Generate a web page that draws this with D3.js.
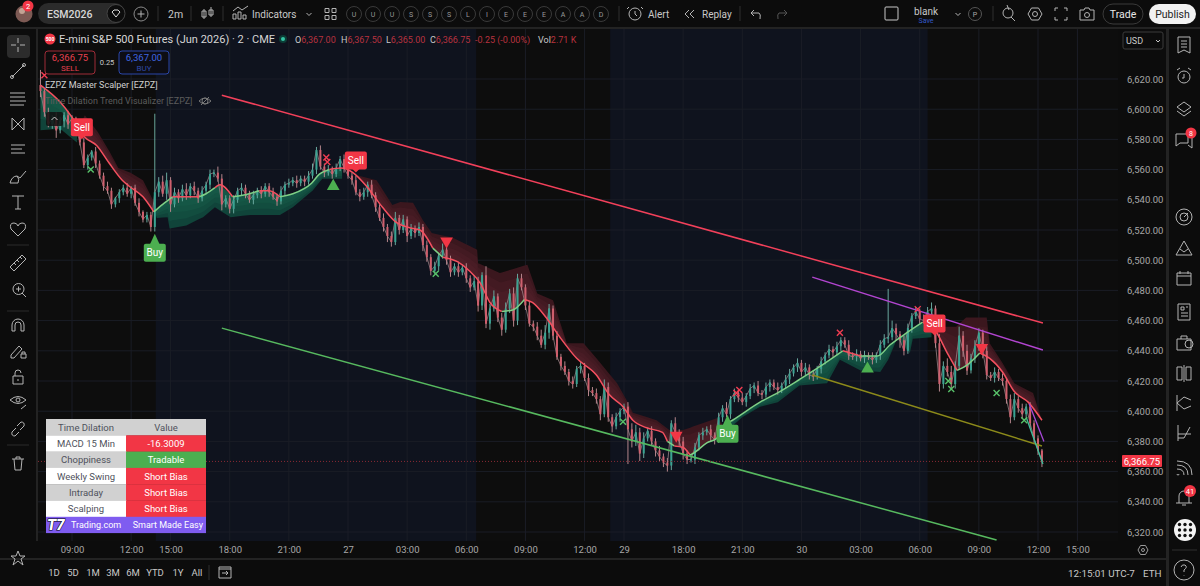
<!DOCTYPE html>
<html><head><meta charset="utf-8">
<script src="https://cdn.jsdelivr.net/npm/d3@7/dist/d3.min.js"></script>
<style>
html,body{margin:0;padding:0;background:#0d0d0d;overflow:hidden}
svg{display:block}
text{font-family:Roboto,"Noto Sans",sans-serif}
</style></head><body>
<svg id="c" width="1200" height="586"></svg>
<script>
// ---------- time axis: one unit = 3 trading minutes, 0 = first 09:00 ----------
const timeTicks=[0,60,100,160,220,280,340,400,460,520,560,620,680,740,800,860,920,980,1020];
const timeLabels=["09:00","12:00","15:00","18:00","21:00","27","03:00","06:00","09:00","12:00","29","18:00","21:00","30","03:00","06:00","09:00","12:00","15:00"];
const priceTicks=[6620,6600,6580,6560,6540,6520,6500,6480,6460,6440,6420,6400,6380,6360,6340,6320];
const firstBar=-32, barStep=4;
const sessions=[[85,410],[546,868]];
// ---------- price candles (12 minute resolution) ----------
const closes=[
6612,6598,6590,6594,6586,6592,6596,6590,6594,6588,
6578,6563,6568,6572,6564,6556,6549,6546,6537,6541,
6545,6548,6544,6548,6538,6532,6527,6530,6522,6545,
6552,6544,6553,6537,6545,6541,6547,6543,6549,6546,
6541,6546,6550,6557,6558,6554,6537,6541,6534,6540,
6546,6548,6544,6540,6543,6546,6544,6549,6545,6542,
6539,6546,6550,6551,6553,6551,6554,6552,6556,6560,
6573,6562,6558,6560,6557,6561,6567,6561,6556,6553,
6545,6542,6545,6550,6543,6535,6528,6522,6516,6512,
6528,6520,6527,6516,6521,6518,6522,6510,6502,6493,
6496,6503,6507,6500,6492,6496,6492,6495,6488,6482,
6486,6470,6490,6458,6468,6476,6462,6454,6468,6478,
6460,6488,6482,6470,6458,6456,6450,6444,6452,6468,
6450,6436,6430,6426,6420,6418,6428,6430,6422,6414,
6412,6408,6398,6416,6396,6390,6396,6400,6403,6388,
6380,6386,6372,6382,6387,6380,6374,6370,6366,6364,
6392,6386,6380,6372,6368,6368,6376,6384,6386,6388,
6384,6381,6396,6402,6398,6408,6412,6409,6406,6410,
6415,6417,6412,6411,6416,6419,6416,6414,6417,6421,
6425,6429,6432,6426,6429,6424,6423,6428,6433,6437,
6441,6439,6443,6447,6444,6437,6436,6438,6435,6437,
6436,6434,6437,6444,6448,6449,6455,6451,6447,6440,
6455,6463,6466,6461,6460,6466,6468,6445,6418,6430,
6426,6418,6430,6450,6440,6427,6435,6443,6452,6440,
6424,6422,6426,6422,6420,6408,6396,6408,6402,6398,
6403,6392,6382,6374,6367];
const upperWick=[
10,2,3,2,4,3,2,3,2,1,
2,3,2,1,3,2,2,3,2,1,
2,2,3,1,2,3,1,2,2,52,
3,4,5,2,3,2,3,4,2,3,
2,3,2,3,2,4,3,2,2,3,
2,3,2,2,3,2,3,2,2,3,
2,3,2,3,2,3,2,2,3,4,
2,3,2,3,2,3,2,3,2,2,
3,2,3,2,3,2,2,3,2,3,
4,2,3,2,3,2,3,2,3,2,
3,2,4,2,3,2,3,2,3,2,
4,3,2,6,3,4,2,3,4,3,
4,3,3,2,3,2,3,4,5,3,
2,3,2,3,2,3,2,3,2,3,
2,3,2,5,3,2,3,2,2,3,
4,5,3,4,2,3,2,3,2,3,
2,4,2,3,2,3,3,2,3,2,
3,2,3,2,4,2,3,2,3,2,
3,2,3,2,3,2,2,3,2,3,
3,2,3,2,3,2,3,2,3,2,
3,2,3,2,2,3,2,3,2,3,
2,3,2,3,3,32,5,3,2,3,
3,2,3,2,3,3,4,2,6,3,
5,4,3,6,3,4,3,4,3,2,
3,2,3,2,3,2,3,4,2,3,
2,3,2,2,1];
const lowerWick=[
4,3,2,3,5,2,4,3,2,3,
2,2,3,2,3,2,3,2,3,2,
3,2,2,3,2,3,2,2,3,3,
3,2,4,5,2,3,2,3,2,3,
3,2,2,3,2,2,4,2,3,3,
2,3,3,2,3,2,3,2,3,2,
3,2,3,2,2,3,2,3,2,2,
3,2,3,2,3,2,2,3,2,3,
2,3,2,3,2,3,2,3,4,3,
2,3,2,4,2,3,2,4,3,3,
2,3,2,3,3,2,3,2,3,3,
2,4,3,3,4,2,3,4,2,3,
4,3,2,3,2,3,3,2,3,4,
3,2,3,2,3,3,2,3,2,4,
2,3,4,2,3,4,2,3,2,23,
4,3,5,3,2,3,4,3,3,4,
3,2,3,4,3,2,3,2,3,2,
4,3,2,3,2,3,2,3,2,3,
2,3,2,3,2,3,2,3,2,2,
3,2,3,3,2,3,3,2,3,2,
2,3,2,3,2,3,2,3,2,3,
2,3,2,3,2,3,2,4,5,3,
2,3,2,3,2,3,2,3,5,3,
3,4,3,2,4,3,2,3,3,5,
3,2,3,2,3,3,4,2,3,3,
2,3,3,3,4];
// ---------- trend line ----------
const trendBars=[-32,-12,0,13,25,38,51,58,72,83,92,102,109,129,136,145,150,163,173,190,200,211,224,243,251,261,273,285,300,315,329,346,353,366,376,391,403,414,424,436,447,459,467,481,495,512,532,545,559,569,583,599,604,611,620,627,630,644,654,665,670,698,718,738,762,782,800,817,830,847,863,873,888,898,908,921,931,944,956,970,984];
const trendPrices=[6616,6604.7,6594.7,6581.5,6576,6564,6553,6549,6542,6532,6537,6542,6542,6542,6544,6548,6550,6542,6543,6546,6546,6542,6544,6551,6557,6560,6561,6558,6548,6535,6525,6521,6520,6508,6502,6499,6493,6485,6472,6466,6467,6474,6472,6462,6449,6435,6424,6411,6403,6394,6389,6386,6380,6377,6376,6371,6372,6379,6382,6392,6394,6406,6413,6421,6431,6440,6436.5,6436.5,6444,6452,6459,6456,6438.5,6427,6430.5,6438.5,6435,6426,6413,6406,6394];
const trendDirs=[-1,-1,-1,-1,-1,-1,-1,-1,-1,-1,1,1,-1,-1,1,1,-1,-1,1,1,-1,-1,1,1,1,1,-1,-1,-1,-1,-1,-1,-1,-1,1,-1,-1,-1,-1,-1,1,1,-1,-1,-1,-1,-1,-1,-1,-1,-1,-1,-1,1,-1,-1,1,1,1,1,1,1,1,1,1,1,-1,1,1,1,1,-1,-1,-1,1,1,-1,-1,-1,-1,-1];
// ---------- time-dilation cloud: outer edge and the side it sits on ----------
const cloudBars=[-32,-12,5, 6,8,13,26,38,47,59,72,82,84, 85,86,97,99,116,133,145,161,181,211,224,244,254,274, 275,278,291,309,325,333,346,356,365,386,411,412,434,462,472,488,502,519,536,553,563,569,593,606,620,655,661, 662,663,680,698,716,738,766,779,800,820,828,837,850,853,872, 873,875,878,897,907,928,931,944,956,975,984];
const cloudEdges=[6586,6587,6578, 6590,6589,6596,6585,6572,6561,6558,6553,6540,6532, 6530,6528,6528.5,6521,6523,6528.5,6535,6528.5,6530,6530,6535,6546,6554,6554, 6561,6559,6556,6553,6536.5,6538.5,6538,6526.5,6518,6515,6507,6498,6491.5,6497,6478,6473.5,6445,6445,6432,6418.5,6407,6399,6394,6387.5,6387.5,6395.5,6390, 6388,6386,6396,6403,6406,6417,6418.5,6434,6427,6426,6434,6448,6438.5,6448,6449, 6456,6470,6456,6456,6462,6462,6445,6432,6418.5,6412,6394];
const cloudSides=[1,1,1, -1,-1,-1,-1,-1,-1,-1,-1,-1,-1, 1,1,1,1,1,1,1,1,1,1,1,1,1,1, -1,-1,-1,-1,-1,-1,-1,-1,-1,-1,-1,-1,-1,-1,-1,-1,-1,-1,-1,-1,-1,-1,-1,-1,-1,-1,-1, 1,1,1,1,1,1,1,1,1,1,1,1,1,1,1, -1,-1,-1,-1,-1,-1,-1,-1,-1,-1,-1];
// ---------- drawn channel lines [bar0, price0, bar1, price1] ----------
const channelRed=[152,6609.3,985,6458.4];
const channelGreen=[152,6455,938,6314.7];
const channelPurple=[751,6488.8,985,6440.5];
const channelOlive=[751,6424,984,6377];
const stubPurple=[971,6405,986,6380];
const stubTeal=[968,6396,985,6365];
// ---------- signals ----------
const sellBars=[10,288,875], sellPrices=[6588,6566,6458];
const buyBars=[84,665], buyPrices=[6505,6385];
const upBars=[265,807], upPrices=[6549,6428];
const downBars=[380,613,923], downPrices=[6512.6,6384,6442];
const redCrossBars=[-28,258,259,674,677,779,858], redCrossPrices=[6622.5,6568,6565,6412,6414,6452,6467.6];
const greenCrossBars=[19,369,559,889,892,938,966], greenCrossPrices=[6560,6491,6393,6420,6414.7,6412,6394];
const lastPrice=6366.75;
// ---------- table ----------
const tableNames=["Time Dilation","MACD 15 Min","Choppiness","Weekly Swing","Intraday","Scalping"];
const tableValues=["Value","-16.3009","Tradable","Short Bias","Short Bias","Short Bias"];
// ---------- chrome text ----------
const watchLetters=["U","U","U","S","S","S","L","I","E","E","E","A","A","D"];
const ohlcLabels=["O","H","L","C"], ohlcValues=["6,367.00","6,367.50","6,365.00","6,366.75"];
const ranges=["1D","5D","1M","3M","6M","YTD","1Y","All"];

const RED="#f23645",GREEN="#4caf50",TXT="#c9c9c9",DIM="#a8a8a8";
const svg=d3.select("#c");
const x=d3.scaleLinear().domain([0,980]).range([72,1038]);
const y=d3.scaleLinear().domain([6320,6620]).range([532,79]);
const L=38,R=1118,T=28,B=541;

svg.append("rect").attr("width",1200).attr("height",586).attr("fill","#0c0c0c");
const clip=svg.append("defs").append("clipPath").attr("id","pane");
clip.append("rect").attr("x",L).attr("y",T).attr("width",R-L).attr("height",B-T);
const pane=svg.append("g").attr("clip-path","url(#pane)");
pane.append("rect").attr("x",L).attr("y",T).attr("width",R-L).attr("height",B-T).attr("fill","#0d0d0d");
pane.selectAll(".s").data(sessions).join("rect").attr("x",d=>x(d[0])).attr("y",T).attr("width",d=>x(d[1])-x(d[0])).attr("height",B-T).attr("fill","#0f131e");
pane.selectAll(".gv").data(timeTicks).join("line").attr("x1",d=>x(d)).attr("x2",d=>x(d)).attr("y1",T).attr("y2",B).attr("stroke","#1a1d26").attr("stroke-width",1);
pane.selectAll(".gh").data(priceTicks).join("line").attr("y1",d=>y(d)).attr("y2",d=>y(d)).attr("x1",L).attr("x2",R).attr("stroke","#1a1d26").attr("stroke-width",1);

// cloud
const trendAt=d3.scaleLinear().domain(trendBars).range(trendPrices);
function runs(side){const out=[];let s=0;for(let i=1;i<=side.length;i++){if(i==side.length||side[i]!=side[s]){out.push([s,i]);s=i;}}return out;}
const cg=pane.append("g");
runs(cloudSides).forEach(([a,b])=>{
  const bars=cloudBars.slice(a,b),edges=cloudEdges.slice(a,b),up=cloudSides[a]<0;
  const edgeAt=d3.scaleLinear().domain(bars).range(edges);
  const mid=trendBars.filter(t=>t>bars[0]&&t<bars[bars.length-1]);
  const pts=[...new Set([...bars,...mid])].sort((p,q)=>p-q);
  const base=up?"#3b171e":"#10443a", bright=up?"#5a2530":"#1a6350";
  [1,.75,.5,.3].forEach((f,k)=>{
    cg.append("path").attr("d",d3.area().x(d=>x(d)).y0(d=>y(trendAt(d))).y1(d=>y(trendAt(d)+(edgeAt(d)-trendAt(d))*f))(pts))
      .attr("fill",k==0?base:bright).attr("fill-opacity",k==0?1:.28);
  });
});

// candles, with a thin trace through the closes to carry the fine jitter
const candles=closes.map((c,i)=>{const o=i?closes[i-1]:c+4;return {bar:firstBar+i*barStep,o,c,h:Math.max(o,c)+upperWick[i],l:Math.min(o,c)-lowerWick[i]};});
const cd=pane.append("g");
cd.append("path").attr("d",d3.line().x(d=>x(d.bar)).y(d=>y(d.c))(candles)).attr("fill","none").attr("stroke","#a0888c").attr("stroke-width",1).attr("stroke-opacity",.75);
cd.selectAll(".w").data(candles).join("line").attr("x1",d=>x(d.bar)).attr("x2",d=>x(d.bar)).attr("y1",d=>y(d.h)).attr("y2",d=>y(d.l)).attr("stroke",d=>d.c>=d.o?"#6aa89e":"#b5868c").attr("stroke-width",1);
cd.selectAll(".b").data(candles).join("rect").attr("x",d=>x(d.bar)-1).attr("width",2)
  .attr("y",d=>y(Math.max(d.o,d.c))).attr("height",d=>Math.max(1,Math.abs(y(d.o)-y(d.c))))
  .attr("fill",d=>d.c>=d.o?"#3aa392":"#cf5f6d");

// trend line by direction runs
const ln=d3.line().x(d=>x(d[0])).y(d=>y(d[1])).curve(d3.curveMonotoneX);
runs(trendDirs).forEach(([a,b])=>{
  const pts=[];for(let i=Math.max(0,a-1);i<b;i++)pts.push([trendBars[i],trendPrices[i]]);
  pane.append("path").attr("d",ln(pts)).attr("fill","none").attr("stroke",trendDirs[a]<0?"#f4505f":"#7fcf86").attr("stroke-width",1.5);
});

// drawn channel lines
[[channelRed,"#f2405a",1.5],[channelGreen,"#57b95f",1.5],[channelPurple,"#b245d0",1.5],[channelOlive,"#8c8a1a",1.5],[stubPurple,"#a648d8",1.3],[stubTeal,"#3fbf9d",1.3]].forEach(([c,col,w])=>{
  pane.append("line").attr("x1",x(c[0])).attr("y1",y(c[1])).attr("x2",x(c[2])).attr("y2",y(c[3])).attr("stroke",col).attr("stroke-width",w);
});
// last price
pane.append("line").attr("x1",L).attr("x2",R).attr("y1",y(lastPrice)).attr("y2",y(lastPrice)).attr("stroke","#8a2a34").attr("stroke-dasharray","1 2").attr("stroke-width",1);

// signal markers
const cross=(g,bars,prices,col)=>{g.selectAll(null).data(bars).join("path").attr("transform",(d,i)=>`translate(${x(d)},${y(prices[i])})`).attr("d","M-3,-3L3,3M3,-3L-3,3").attr("stroke",col).attr("stroke-width",1.4).attr("fill","none");};
cross(pane.append("g"),redCrossBars,redCrossPrices,"#f23d52");
cross(pane.append("g"),greenCrossBars,greenCrossPrices,"#58c26a");
const tri=d3.symbol().type(d3.symbolTriangle).size(70);
pane.selectAll(".u").data(upBars).join("path").attr("d",tri).attr("transform",(d,i)=>`translate(${x(d)},${y(upPrices[i])})`).attr("fill",GREEN);
pane.selectAll(".d").data(downBars).join("path").attr("d",tri).attr("transform",(d,i)=>`translate(${x(d)},${y(downPrices[i])}) rotate(180)`).attr("fill",RED);
function tag(bars,prices,label,col,up){
  bars.forEach((b,i)=>{const g=pane.append("g").attr("transform",`translate(${x(b)},${y(prices[i])})`);
    g.append("path").attr("d",up?"M-5,-8L0,-19L5,-8Z":"M-4,8L0,12L4,8Z").attr("fill",col);
    g.append("rect").attr("x",-11).attr("y",-9).attr("width",22).attr("height",18).attr("rx",2).attr("fill",col);
    g.append("text").attr("text-anchor","middle").attr("y",3.3).attr("font-size",10).attr("fill","#fff").text(label);
  });
}
tag(sellBars,sellPrices,"Sell",RED,false);
tag(buyBars,buyPrices,"Buy",GREEN,true);

// axes
const ay=svg.append("g").attr("transform","translate(1120,0)").call(d3.axisRight(y).tickValues(priceTicks).tickFormat(d3.format(",.2f")).tickSize(0).tickPadding(7));
ay.select(".domain").remove();ay.selectAll("text").attr("fill",DIM).attr("font-size",9.5).style("font-family","Roboto");
const ax=svg.append("g").attr("transform","translate(0,544)").call(d3.axisBottom(x).tickValues(timeTicks).tickFormat((d,i)=>timeLabels[i]).tickSize(0).tickPadding(2));
ax.select(".domain").remove();ax.selectAll("text").attr("fill",DIM).attr("font-size",9.5).style("font-family","Roboto");

const ui=svg.append("g");
const txt=(t,px,py,size,col,anchor,weight)=>ui.append("text").attr("x",px).attr("y",py).attr("font-size",size).attr("fill",col).attr("text-anchor",anchor||"start").attr("font-weight",weight||400).text(t);
const ic=(d,px,py,col,w)=>ui.append("path").attr("transform",`translate(${px},${py})`).attr("d",d).attr("fill","none").attr("stroke",col||"#b4b4b4").attr("stroke-width",w||1);
const circ=(px,py,r,fill,stroke)=>ui.append("circle").attr("cx",px).attr("cy",py).attr("r",r).attr("fill",fill||"none").attr("stroke",stroke||"none");

// price tag and USD
ui.append("rect").attr("x",1122).attr("y",455).attr("width",40).attr("height",12).attr("rx",1).attr("fill",RED);
txt(d3.format(",.2f")(lastPrice),1142,464.5,9.5,"#fff","middle");
ui.append("rect").attr("x",1123).attr("y",32).attr("width",40).attr("height",17).attr("rx",2).attr("fill","#0c0c0c").attr("stroke","#3a3a3a");
txt("USD",1126,43.5,9,TXT);ic("M-2,-1L0,1L2,-1",1158,41,TXT);

// frames
[[0,27,1200,2],[36,27,2,514],[1166,27,3,559],[0,558,1166,2]].forEach(r=>ui.append("rect").attr("x",r[0]).attr("y",r[1]).attr("width",r[2]).attr("height",r[3]).attr("fill","#232323"));

// top bar
circ(24,14,8.5,"#7d5a54");circ(22,11,3,"#c2a394");
circ(28,6,5.5,RED);txt("2",28,9,7.5,"#fff","middle");
ui.append("rect").attr("x",38).attr("y",3).attr("width",87).attr("height",21).attr("rx",10.5).attr("fill","#2b2b2b");
txt("ESM2026",47,18,10.5,"#d8d8d8",null,500);
circ(116,13.5,9,"#0c0c0c","#444");ic("M-4,-2L-2,-4H2L4,-2L0,3Z",116,14,"#ddd");
circ(141,14,7,null,"#8a8a8a");ic("M-3.5,0H3.5M0,-3.5V3.5",141,14);
[158,191,223,619,740,993].forEach(v=>ui.append("line").attr("x1",v).attr("x2",v).attr("y1",6).attr("y2",21).attr("stroke","#2e2e2e"));
txt("2m",168,18,10.5,TXT);
ic("M-3,-4V6M-5,-2H-1V4H-5ZM4,-6V4M2,-3H6V2H2Z",207,13);
ic("M-8,6V1H-5V6ZM-3,6V-1H0V6ZM2,6V2H5V6ZM-8,-2L-3,-6L1,-3L7,-7",241,13);
txt("Indicators",252,18,10,TXT);ic("M-2.5,-1L0,1.5L2.5,-1",309,14);
ic("M-5,-5h4v4h-4zM2,-5h4v4h-4zM-5,2h4v4h-4zM2,2h4v4h-4z",330,13.5);
watchLetters.forEach((l,i)=>{circ(354+i*19,14,7.5,null,"#3a3a3a");txt(l,354+i*19,16.5,7,"#9a9a9a","middle");});
circ(635,14,6,null,"#b4b4b4");ic("M0,-3V0L2,2M-6,-7L-8,-5M6,-7L8,-5",635,14);
txt("Alert",648,18,10,TXT);
ic("M0,-4L-4,0L0,4M5,-4L1,0L5,4",689,14);txt("Replay",702,18,10,TXT);
ic("M-2,-4L-5,-1L-2,2M-5,-1H3Q5,0 4,5",756,14);ic("M2,-4L5,-1L2,2M5,-1H-3Q-5,0 -4,5",782,14,"#555");
ui.append("rect").attr("x",885).attr("y",7).attr("width",13).attr("height",13).attr("rx",1).attr("fill","none").attr("stroke","#c8c8c8");
txt("blank",926,15,10,TXT,"middle");txt("Save",926,23,7,"#3358c9","middle");
ic("M-2.5,-1L0,1.5L2.5,-1",958,14);circ(975,14,6.5,null,"#555");txt("P",975,16.5,7,"#aaa","middle");
circ(1008,13,5,null,"#b4b4b4");ic("M3,4L7,8M-1,-8L1,-3",1008,13);
ic("M-7,0L-3.5,-6H3.5L7,0L3.5,6H-3.5ZM-2.5,0a2.5,2.5 0 1 0 5,0a2.5,2.5 0 1 0 -5,0",1035,14);
ic("M-6,-3V-6H-3M3,-6H6V-3M6,3V6H3M-3,6H-6V3",1061,14);
ic("M-7,-4H-3L-2,-6H2L3,-4H7V6H-7ZM-2.5,1a2.5,2.5 0 1 0 5,0a2.5,2.5 0 1 0 -5,0",1087,14);
ui.append("rect").attr("x",1103).attr("y",4).attr("width",40).attr("height",20).attr("rx",10).attr("fill","#0c0c0c").attr("stroke","#3a3a3a");
txt("Trade",1123,18,10.5,"#e8e8e8","middle");
ui.append("rect").attr("x",1149).attr("y",4).attr("width",47).attr("height",20).attr("rx",10).attr("fill","#f2f2f2");
txt("Publish",1172.5,18,10.5,"#222","middle");

// title row
circ(50,39,5.5,RED);txt("500",50,41,5,"#fff","middle",700);
txt("E-mini S&P 500 Futures (Jun 2026) · 2 · CME",59,43,11,"#d6d6d6");
circ(283,39,4,"#0c3d36");circ(283,39,2,"#34c4a4");
let ox=295;
ohlcLabels.forEach((l,i)=>{const a=ui.append("text").attr("x",ox).attr("y",43).attr("font-size",9);a.append("tspan").attr("fill",TXT).text(l);a.append("tspan").attr("fill","#b8323f").text(ohlcValues[i]);ox+=[46,45,44,45][i];});
txt("-0.25 (-0.00%)",475,43,9,"#b8323f");
const vv=ui.append("text").attr("x",538).attr("y",43).attr("font-size",9);vv.append("tspan").attr("fill",TXT).text("Vol");vv.append("tspan").attr("fill","#b8323f").text("2.71 K");

// sell/buy boxes
ui.append("rect").attr("x",45).attr("y",51).attr("width",50).attr("height",23).attr("rx",3).attr("fill","#0d0d0d").attr("stroke","#a02c38");
txt("6,366.75",70,61,9.5,"#e8404f","middle");txt("SELL",70,71,8,"#e8404f","middle");
txt("0.25",107,65,7.5,TXT,"middle");
ui.append("rect").attr("x",119).attr("y",51).attr("width",50).attr("height",23).attr("rx",3).attr("fill","#0d0d14").attr("stroke","#2a46a8");
txt("6,367.00",144,61,9.5,"#3f66e0","middle");txt("BUY",144,71,8,"#2f4aa8","middle");
txt("EZPZ Master Scalper [EZPZ]",45,88,9,"#d0d0d0");
txt("Time Dilation Trend Visualizer [EZPZ]",45,104,9,"#5c5c5c");
circ(205,101,3,null,"#777");ic("M-6,0Q0,-6 6,0Q0,6 -6,0M-4,4L4,-4",205,101,"#777");
ui.append("rect").attr("x",46).attr("y",112).attr("width",17).attr("height",14).attr("rx",2).attr("fill","#111").attr("fill-opacity",.85);
ic("M-3,1L0,-2L3,1",54.5,119,"#ccc");

// table
const tb=ui.append("g");const rh=16.3,tx=46,ty=419,cw=80;
tableNames.forEach((n,i)=>{const yy=ty+i*rh;const light=i%2==1;
  tb.append("rect").attr("x",tx).attr("y",yy).attr("width",cw+.5).attr("height",rh+.3).attr("fill",light?"#ffffff":"#d1d1d1");
  tb.append("rect").attr("x",tx+cw).attr("y",yy).attr("width",cw).attr("height",rh+.3).attr("fill",i==0?"#d1d1d1":(i==2?GREEN:RED));
  tb.append("text").attr("x",tx+cw/2).attr("y",yy+11.6).attr("text-anchor","middle").attr("font-size",9.5).attr("fill","#4f525c").text(n);
  tb.append("text").attr("x",tx+cw*1.5).attr("y",yy+11.6).attr("text-anchor","middle").attr("font-size",9.5).attr("fill",i==0?"#4f525c":"#fff").text(tableValues[i]);
});
const fy=ty+6*rh;
tb.append("rect").attr("x",tx).attr("y",fy).attr("width",160).attr("height",rh).attr("fill","#7f5cf0");
tb.append("text").attr("x",tx+1).attr("y",fy+13.5).attr("font-size",15).attr("font-weight",900).attr("fill","#fff").attr("stroke","#000").attr("stroke-width",1.1).attr("paint-order","stroke").attr("font-style","italic").text("T7");
tb.append("text").attr("x",71).attr("y",fy+11.6).attr("font-size",9).attr("fill","#fff").text("Trading.com");
tb.append("text").attr("x",203).attr("y",fy+11.6).attr("text-anchor","end").attr("font-size",9).attr("fill","#fff").text("Smart Made Easy");

// bottom bar
const rangeX=[54,73,93,113,133,155,178,197];
ranges.forEach((r,i)=>txt(r,rangeX[i],576,9.5,TXT,"middle"));
ui.append("line").attr("x1",209).attr("x2",209).attr("y1",565).attr("y2",580).attr("stroke","#2e2e2e");
ic("M-6,-3H6M-6,-5V6H6V-5ZM-3,1H3M1,-1L3,1L1,3",225,572);
txt("12:15:01 UTC-7",1068,577,9.8,TXT);txt("ETH",1143,577,9.8,TXT);
ic("M-5,0L-2.5,-4.5H2.5L5,0L2.5,4.5H-2.5ZM-1.5,0a1.5,1.5 0 1 0 3,0a1.5,1.5 0 1 0 -3,0",1143,550,"#999");

// left toolbar
ui.append("rect").attr("x",7).attr("y",35).attr("width",23).attr("height",23).attr("rx",4).attr("fill","#2c2c2c");
const leftIcons=[
[45,"M-7,0H-2M2,0H7M0,-7V-2M0,2V7"],
[71,"M-6,6L6,-6M-6,6m-1.5,0a1.5,1.5 0 1 0 3,0a1.5,1.5 0 1 0 -3,0M6,-6m-1.5,0a1.5,1.5 0 1 0 3,0a1.5,1.5 0 1 0 -3,0"],
[98,"M-8,-5H7M-8,-1H7M-8,3H8M-8,7H6"],
[124,"M-6,-6L6,6M6,-6L-6,6M-6,-6V6M6,-6V6"],
[150,"M-7,-5H7M-7,-1H4M-7,3H7"],
[177,"M-8,6Q-6,-1 -1,-1Q2,2 0,6ZM-1,-1L2,1L8,-6"],
[202,"M-6,-6H6M0,-6V7M-3,7H3"],
[229,"M0,7L-7,0Q-9,-6 -4,-6Q-1,-6 0,-3Q1,-6 4,-6Q9,-6 7,0Z"],
[263,"M-8,4L4,-8L8,-4L-4,8ZM-4,0L-2,2M-1,-3L1,-1M2,-6L4,-4"],
[289,"M-5,0a5.5,5.5 0 1 0 11,0a5.5,5.5 0 1 0 -11,0M-2,0H3M0.5,-2.5V2.5M4,4L8,8"],
[326,"M-6,5V-1A6,6 0 0 1 6,-1V5H3V-1A3,3 0 0 0 -3,-1V5Z"],
[351,"M-7,4L1,-5L4,-2L-4,7L-7,7ZM3,3h5v4h-5zM4,3V1h3v2"],
[377,"M-5,-1h10v8h-10zM-3,-1V-4A3,3 0 0 1 3,-4M0,2V4"],
[402,"M-8,-2Q0,-9 8,-2Q0,5 -8,-2M-2,-2a2,2 0 1 0 4,0a2,2 0 1 0 -4,0M3,7L8,3"],
[429,"M-1,-3L3,-7Q7,-7 6,-3L2,1M1,3L-3,7Q-7,7 -6,3L-2,-1"],
[463,"M-6,-4H6M-2,-4V-6H2V-4M-4,-4L-3,7H3L4,-4"],
[558,"M0,-7L2,-2L7,-2L3,1L5,7L0,3L-5,7L-3,1L-7,-2L-2,-2Z"]];
leftIcons.forEach(d=>ic(d[1],18,d[0]));
[245,311,445].forEach(v=>ui.append("line").attr("x1",7).attr("x2",29).attr("y1",v).attr("y2",v).attr("stroke","#2a2a2a"));

// right toolbar
const rightIcons=[
[45,"M-6,-8H6V8L0,5L-6,8ZM-3,-4H3M-3,-1H3M-3,2H3"],
[77,"M-6,0a6,6 0 1 0 12,0a6,6 0 1 0 -12,0M0,-3V1H-2M-7,-7L-4,-9M7,-7L4,-9"],
[108,"M-7,-1L0,-6L7,-1L0,4ZM-7,3L0,8L7,3"],
[140,"M-8,-6H4V3H-4L-8,6ZM6,-3H8V8L4,5"],
[217,"M-8,0a8,8 0 1 0 16,0a8,8 0 1 0 -16,0M-4,0a4,4 0 1 0 8,0a4,4 0 1 0 -8,0M0,0L4,-4"],
[248,"M-8,7L0,-7L8,7ZM-4,1L0,4L4,1"],
[278,"M-7,-5H7V7H-7ZM-7,-2H7M-4,-7V-4M4,-7V-4"],
[312,"M-6,-8H6V8H-6ZM-3,-5H0V-2H-3ZM2,-5H4M-3,1H4M-3,4H4"],
[343,"M-7,-4H7V7H-7ZM-3,-4V-7H3V-4M1,1a4,4 0 1 0 8,0a4,4 0 1 0 -8,0"],
[373,"M-7,-6H-2V7H-7ZM2,-6H7V7H2ZM0,-8V9"],
[403,"M-7,-8V8M-7,0L0,-6L7,-3M-7,0L0,6L7,3"],
[433,"M-6,-8V8M-6,1H7M-6,5H0L6,-6"],
[467,"M-7,7a1,1 0 1 0 2,0M-7,2Q0,2 0,8M-7,-2Q4,-2 4,8M-7,-6Q8,-6 8,8"],
[497,"M-8,6H8M-5,6V-1A5,5 0 0 1 5,-1V6M-2,8H2"],
[570,"M-10,0a10,10 0 1 0 20,0a10,10 0 1 0 -20,0M-3,-3Q-2,-6 1,-5Q4,-3 0,0V2M0,5V5.5"]];
rightIcons.forEach(d=>ic(d[1],1184,d[0]));
circ(1191,133,5.5,RED);txt("8",1191,136,7,"#fff","middle");
circ(1190,491,6,RED);txt("41",1190,494,7.5,"#fff","middle");
circ(1185,530,11,"#f4f4f4");
d3.range(3).forEach(r=>d3.range(3).forEach(c=>circ(1179.5+c*5.5,524.5+r*5.5,1.7,"#111")));
ui.append("line").attr("x1",1172).attr("x2",1197).attr("y1",550).attr("y2",550).attr("stroke","#2e2e2e");
</script></body></html>
